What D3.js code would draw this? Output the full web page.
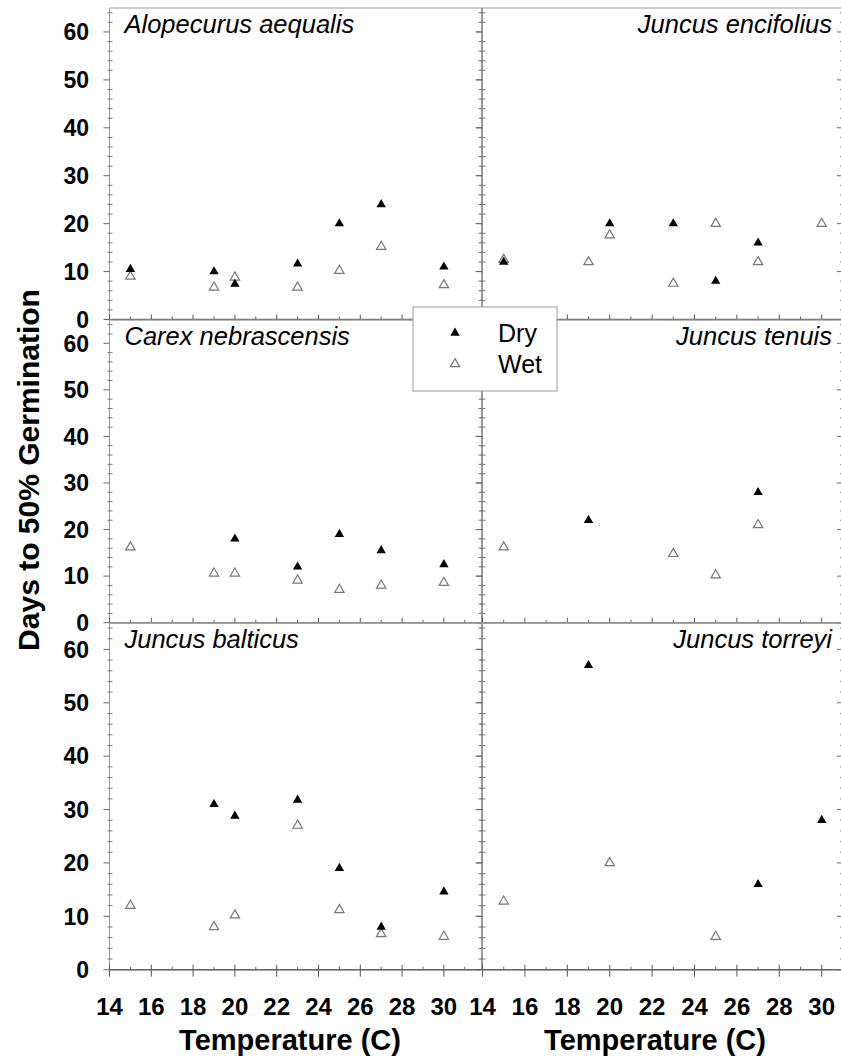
<!DOCTYPE html>
<html>
<head>
<meta charset="utf-8">
<script src="https://cdn.jsdelivr.net/npm/d3@7"></script>
<style>
  body { margin: 0; background: #fff; }
  svg { display: block; font-family: "Liberation Sans", Arial, sans-serif; }
</style>
</head>
<body>
<svg width="841" height="1063"></svg>
<script>
// germination days per species, dry vs wet storage
var temps = [15, 19, 20, 23, 25, 27, 30];
var species = ["Alopecurus aequalis", "Juncus encifolius", "Carex nebrascensis",
               "Juncus tenuis", "Juncus balticus", "Juncus torreyi"];
var dryDays = [
  [10.5, 10, 7.4, 11.6, 20, 24, 11],
  [12, null, 20, 20, 8, 16, null],
  [null, null, 18, 12, 19, 15.5, 12.5],
  [null, 22, null, null, null, 28, null],
  [null, 31, 28.8, 31.8, 19, 8, 14.6],
  [null, 57, null, null, null, 16, 28]
];
var wetDays = [
  [9, 6.7, 8.8, 6.7, 10.2, 15.2, 7.2],
  [12.5, 12, 17.6, 7.5, 20, 12, 20],
  [16.2, 10.6, 10.6, 9.1, 7.1, 8, 8.6],
  [16.2, null, null, 14.8, 10.2, 21, null],
  [12, 8, 10.2, 27, 11.2, 6.7, 6.2],
  [12.8, null, 20, null, 6.2, null, null]
];
var yTicks = [0, 10, 20, 30, 40, 50, 60];
var xTicks = [14, 16, 18, 20, 22, 24, 26, 28, 30];
var legendLabels = ["Dry", "Wet"];

var svg = d3.select("svg");

// panel geometry
var cols = [
  {domain: [14, 31.8], range: [109.5, 481.5]},
  {domain: [14, 31], range: [482.5, 842.9]}
];
var rows = [[319.5, 8], [622.7, 320], [969.7, 622.7]];

var tri = d3.symbol().type(d3.symbolTriangle).size(38);

species.forEach(function(name, i) {
  var c = cols[i % 2], r = rows[Math.floor(i / 2)];
  var x = d3.scaleLinear().domain(c.domain).range(c.range);
  var y = d3.scaleLinear().domain([0, 65]).range(r);
  var g = svg.append("g").attr("class", "panel");
  var x0 = c.range[0], x1 = c.range[1], y0 = r[0], y1 = r[1];

  // frame
  g.append("rect")
    .attr("x", x0).attr("y", y1)
    .attr("width", x1 - x0).attr("height", y0 - y1)
    .attr("fill", "none").attr("stroke", "#999").attr("stroke-width", 1);
  g.append("line")
    .attr("x1", x0).attr("x2", x1).attr("y1", y0).attr("y2", y0)
    .attr("stroke", "#666").attr("stroke-width", 1.5);

  // y ticks (left, outward major / crossing minor) and right mirror ticks
  var yMinor = d3.range(0, 65, 2).filter(function(v) { return v % 10 != 0; });
  g.selectAll(".ymaj").data(yTicks).enter().append("line")
    .attr("x1", x0 - 6).attr("x2", x0).attr("y1", y).attr("y2", y)
    .attr("stroke", "#666");
  g.selectAll(".ymin").data(yMinor).enter().append("line")
    .attr("x1", x0 - 2).attr("x2", x0 + 3).attr("y1", y).attr("y2", y)
    .attr("stroke", "#777");
  g.selectAll(".ymajr").data(yTicks).enter().append("line")
    .attr("x1", x1 - 6).attr("x2", x1).attr("y1", y).attr("y2", y)
    .attr("stroke", "#666");
  g.selectAll(".yminr").data(yMinor).enter().append("line")
    .attr("x1", x1 - 3).attr("x2", x1).attr("y1", y).attr("y2", y)
    .attr("stroke", "#777");

  // x ticks along the bottom, pointing in
  var xMinor = d3.range(15, 32, 2).filter(function(v) { return v < c.domain[1]; });
  var bottomRow = Math.floor(i / 2) == 2;
  g.selectAll(".xmaj").data(xTicks).enter().append("line")
    .attr("x1", x).attr("x2", x)
    .attr("y1", y0 - 5).attr("y2", bottomRow ? y0 + 7 : y0)
    .attr("stroke", "#555");
  g.selectAll(".xmin").data(xMinor).enter().append("line")
    .attr("x1", x).attr("x2", x).attr("y1", y0 - 3).attr("y2", y0)
    .attr("stroke", "#666");

  if (i % 2 == 0) {
    g.selectAll(".ylab").data(yTicks).enter().append("text")
      .attr("x", 89).attr("y", y).attr("dy", "0.36em")
      .attr("text-anchor", "end")
      .style("font-size", "23px").style("font-weight", "bold")
      .text(function(d) { return d; });
  }
  if (bottomRow) {
    g.selectAll(".xlab").data(xTicks).enter().append("text")
      .attr("x", x).attr("y", 1015)
      .attr("text-anchor", "middle")
      .style("font-size", "24px").style("font-weight", "bold")
      .text(function(d) { return d; });
  }

  // species title
  g.append("text")
    .attr("x", i % 2 == 0 ? x0 + 15 : 832)
    .attr("y", y1 + 25)
    .attr("text-anchor", i % 2 == 0 ? "start" : "end")
    .style("font-size", "25.5px").style("font-style", "italic")
    .text(name);

  // points: wet first, dry on top
  var wet = temps.map(function(t, k) { return {t: t, v: wetDays[i][k]}; })
    .filter(function(d) { return d.v != null; });
  var dry = temps.map(function(t, k) { return {t: t, v: dryDays[i][k]}; })
    .filter(function(d) { return d.v != null; });
  g.selectAll(".wet").data(wet).enter().append("path")
    .attr("d", tri)
    .attr("transform", function(d) { return "translate(" + x(d.t) + "," + y(d.v) + ")"; })
    .attr("fill", "#fff").attr("stroke", "#777").attr("stroke-width", 1.2);
  g.selectAll(".dry").data(dry).enter().append("path")
    .attr("d", tri)
    .attr("transform", function(d) { return "translate(" + x(d.t) + "," + y(d.v) + ")"; })
    .attr("fill", "#000");
});

// axis titles
svg.append("text")
  .attr("transform", "translate(39,470) rotate(-90)")
  .attr("text-anchor", "middle")
  .style("font-size", "30px").style("font-weight", "bold")
  .text("Days to 50% Germination");
[290, 655].forEach(function(cx) {
  svg.append("text")
    .attr("x", cx).attr("y", 1050)
    .attr("text-anchor", "middle")
    .style("font-size", "29px").style("font-weight", "bold")
    .text("Temperature (C)");
});

// legend
var leg = svg.append("g").attr("transform", "translate(413,307)");
leg.append("rect").attr("width", 144).attr("height", 84)
  .attr("fill", "#fff").attr("stroke", "#999");
leg.selectAll(".item").data(legendLabels).enter().append("g")
  .attr("transform", function(d, k) { return "translate(0," + (26 + k * 31) + ")"; })
  .each(function(d, k) {
    var it = d3.select(this);
    it.append("path").attr("d", tri).attr("transform", "translate(42,0)")
      .attr("fill", k == 0 ? "#000" : "#fff")
      .attr("stroke", k == 0 ? "none" : "#777").attr("stroke-width", 1.2);
    it.append("text").attr("x", 85).attr("y", 9)
      .style("font-size", "25px").text(d);
  });
</script>
</body>
</html>
